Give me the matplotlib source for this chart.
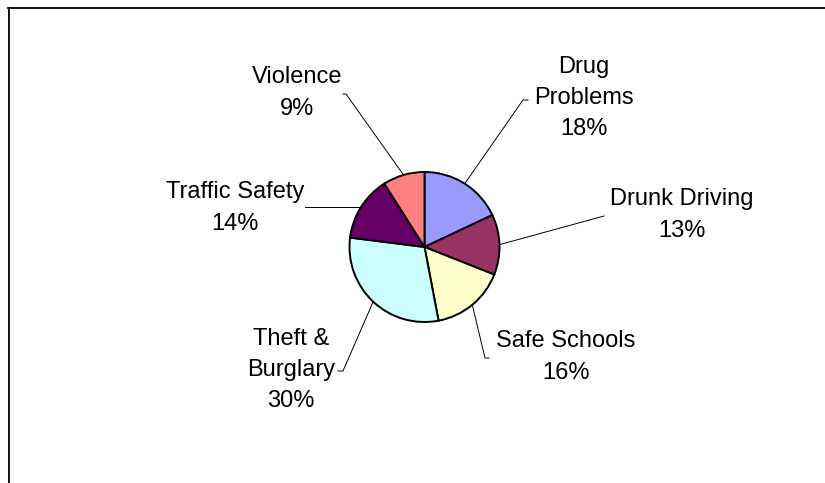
import numpy as np
import matplotlib.pyplot as plt

plt.rcParams['font.family'] = ['Liberation Sans', 'DejaVu Sans']

# data
categories = ['Drug\nProblems', 'Drunk Driving', 'Safe Schools',
              'Theft &\nBurglary', 'Traffic Safety', 'Violence']
shares = [18, 13, 16, 30, 14, 9]
colors = ['#9999FF', '#993366', '#FFFFCC', '#CCFFFF', '#660066', '#FF8080']

# layout (pixel coords, y down)
center = (424.5, 247)
radius = 75
label_pos = [(584, 98), (682, 215), (566, 357), (291, 370), (235, 208), (297, 93)]
elbows = [[(523, 100), (528, 100)],
          [(604, 216)],
          [(485, 358), (489, 358)],
          [(343, 371), (338, 371)],
          [(305, None)],
          [(346, 94), (343, 94)]]

fig = plt.figure(figsize=(8.25, 4.83), dpi=100)
ax = fig.add_axes([0, 0, 1, 1])
ax.set_xlim(0, 825)
ax.set_ylim(483, 0)
ax.set_aspect('equal')
ax.axis('off')

wedges, _ = ax.pie(shares, colors=colors, center=center, radius=radius,
                   startangle=-90, counterclock=True,
                   wedgeprops=dict(edgecolor='black', linewidth=1.4))
ax.set_xlim(0, 825)
ax.set_ylim(483, 0)

for w, name, val, pos, elb in zip(wedges, categories, shares, label_pos, elbows):
    mid = np.deg2rad((w.theta1 + w.theta2) / 2)
    x0 = center[0] + radius * np.cos(mid)
    y0 = center[1] + radius * np.sin(mid)
    xs, ys = [x0], [y0]
    for ex, ey in elb:
        xs.append(ex)
        ys.append(y0 if ey is None else ey)
    ax.plot(xs, ys, color='black', lw=0.7)
    ax.text(pos[0], pos[1], f'{name}\n{val}%', ha='center', va='center',
            multialignment='center', fontsize=17, linespacing=1.55, color='black')

# chart frame
ax.plot([8, 825], [7.5, 7.5], color='black', lw=1.3, clip_on=False)
ax.plot([8.5, 8.5], [7.5, 483], color='black', lw=1.3, clip_on=False)

fig.savefig('out.png', dpi=100)
